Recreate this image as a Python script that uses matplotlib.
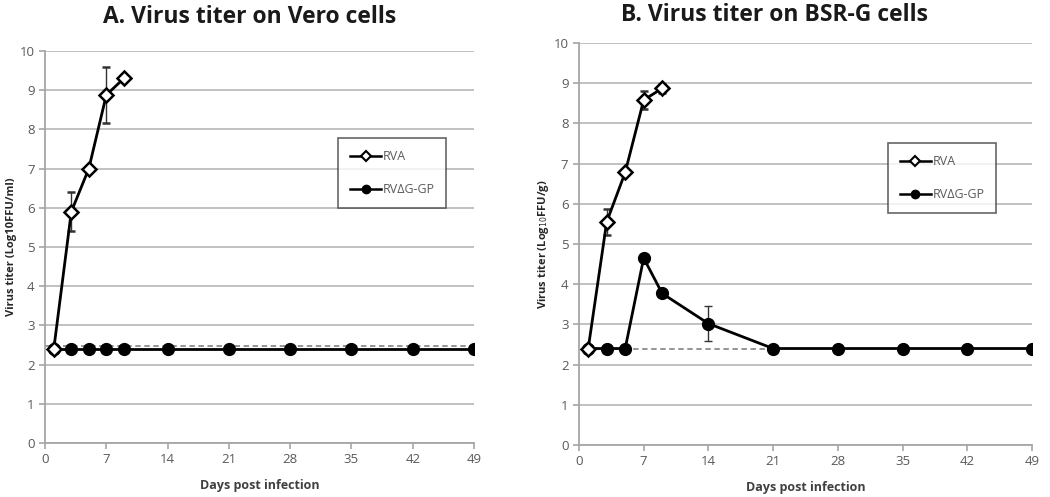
import matplotlib
matplotlib.use('Agg')
from matplotlib import pyplot as plt
from matplotlib.lines import Line2D

days = [1, 3, 5, 7, 9, 14, 21, 28, 35, 42, 49]
rva_days = [1, 3, 5, 7, 9]

# panel A (Vero)
vero_rva = [2.4, 5.9, 7.0, 8.88, 9.3]
vero_rva_err = [0, 0.5, 0, 0.72, 0.06]
vero_gp = [2.4, 2.4, 2.4, 2.4, 2.4, 2.4, 2.4, 2.4, 2.4, 2.4, 2.4]
vero_limit_days = [0, 49]
vero_limit = [2.47, 2.47]

# panel B (BSR-G)
bsr_rva = [2.4, 5.55, 6.78, 8.58, 8.87]
bsr_rva_err = [0, 0.32, 0, 0.22, 0.12]
bsr_gp = [2.4, 2.4, 2.4, 4.65, 3.77, 3.02, 2.4, 2.4, 2.4, 2.4, 2.4]
bsr_gp_err = [0, 0, 0, 0, 0, 0.43, 0, 0, 0, 0, 0]
bsr_limit_days = [1, 21]
bsr_limit = [2.4, 2.4]

x_ticks = [0, 7, 14, 21, 28, 35, 42, 49]
y_ticks = list(range(0, 11))

plt.rcParams['font.family'] = ['Open Sans', 'DejaVu Sans']
grey = '#8c8c8c'
txt = '#595959'

fig = plt.figure(figsize=(10.5, 4.97), dpi=100)
ax_a = fig.add_axes([0.0429, 0.1087, 0.4086, 0.7887])
ax_b = fig.add_axes([0.5514, 0.1046, 0.4314, 0.8090])


def style_axes(ax, ylabel, label_x, title, title_pos):
    ax.set_xlim(0, 49)
    ax.set_ylim(0, 10)
    ax.set_xticks(x_ticks)
    ax.set_yticks(y_ticks)
    ax.grid(axis='y', color='#bcbcbc', linewidth=1.3)
    ax.set_axisbelow(True)
    for s in ['top', 'right']:
        ax.spines[s].set_visible(False)
    for s in ['left', 'bottom']:
        ax.spines[s].set_color('#a6a6a6')
        ax.spines[s].set_linewidth(1.3)
    ax.tick_params(colors='#a6a6a6', labelcolor=txt, labelsize=9.5, length=4, width=1.2)
    ax.set_xlabel('Days post infection', fontsize=9, fontweight='bold', color='#404040', labelpad=9)
    ax.set_ylabel(ylabel, fontsize=8, fontweight='bold', color='#262626')
    ax.yaxis.set_label_coords(label_x, 0.5)
    fig.text(title_pos[0], title_pos[1], title, fontsize=16.5, fontweight='bold',
             ha='center', va='center', color='#1a1a1a')


def add_legend(ax, loc):
    handles = [
        Line2D([], [], color='black', lw=1.8, marker='D', markersize=5,
               markerfacecolor='white', markeredgecolor='black', markeredgewidth=1.5),
        Line2D([], [], color='black', lw=1.8, marker='o', markersize=6,
               markerfacecolor='black'),
    ]
    leg = ax.legend(handles, ['RVA', 'RVΔG-GP'], loc='upper left', bbox_to_anchor=loc,
                    fontsize=9, frameon=True, fancybox=False, edgecolor='#404040',
                    labelspacing=1.6, handlelength=2.5, handletextpad=0.1,
                    borderpad=0.95, borderaxespad=0)
    leg.get_frame().set_linewidth(1.2)
    for t in leg.get_texts():
        t.set_color(txt)


# panel A
ax_a.plot(vero_limit_days, vero_limit, color=grey, linestyle='--', dashes=(3, 2), lw=1.3, zorder=2)
ax_a.plot(days, vero_gp, color='black', lw=2, marker='o', markersize=8.5, zorder=3)
ax_a.errorbar(rva_days, vero_rva, yerr=vero_rva_err, color='black', lw=2, marker='D',
              markersize=7, markerfacecolor='white', markeredgecolor='black',
              markeredgewidth=1.8, ecolor='#333333', elinewidth=1, capsize=3, zorder=4)
style_axes(ax_a, 'Virus titer (Log10FFU/ml)', -0.066, 'A. Virus titer on Vero cells', (0.238, 0.966))
add_legend(ax_a, (0.683, 0.778))

# panel B
ax_b.plot(bsr_limit_days, bsr_limit, color=grey, linestyle='--', dashes=(3, 2), lw=1.3, zorder=2)
ax_b.errorbar(days, bsr_gp, yerr=bsr_gp_err, color='black', lw=2, marker='o', markersize=8.5,
              ecolor='#333333', elinewidth=1, capsize=3, zorder=3)
ax_b.errorbar(rva_days, bsr_rva, yerr=bsr_rva_err, color='black', lw=2, marker='D',
              markersize=7, markerfacecolor='white', markeredgecolor='black',
              markeredgewidth=1.8, ecolor='#333333', elinewidth=1, capsize=3, zorder=4)
style_axes(ax_b, 'Virus titer (Log$_{10}$FFU/g)', -0.062, 'B. Virus titer on BSR-G cells', (0.738, 0.970))
add_legend(ax_b, (0.682, 0.750))

fig.savefig('out.png', dpi=100)
